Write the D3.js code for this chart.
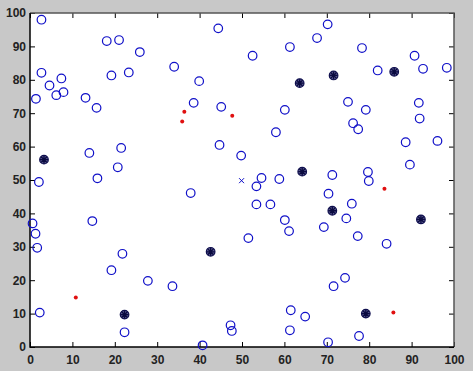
<!DOCTYPE html>
<html>
<head>
<meta charset="utf-8">
<script src="https://cdn.jsdelivr.net/npm/d3@7"></script>
<style>
  body { margin: 0; background: #c8c8c8; }
  svg { display: block; }
</style>
</head>
<body>
<div id="chart"></div>
<script>
// data points
var circles = [
  [2.7,98.0],[2.7,82.1],[1.4,74.3],[4.6,78.3],[6.2,75.4],[7.4,80.4],[7.9,76.3],
  [13.1,74.6],[15.7,71.6],[18.1,91.6],[21.0,91.9],[19.2,81.3],[23.3,82.2],[25.9,88.3],
  [34.0,83.9],[39.9,79.6],[38.6,73.1],[44.4,95.4],[45.1,71.9],[44.7,60.5],[14.0,58.1],
  [21.5,59.6],[20.7,53.8],[15.9,50.5],[2.1,49.4],[49.8,57.3],[52.5,87.2],[61.3,89.8],
  [67.7,92.5],[70.2,96.6],[78.3,89.5],[90.7,87.2],[92.7,83.3],[98.3,83.6],[82.0,82.8],
  [75.0,73.4],[79.2,71.0],[91.7,73.1],[91.9,68.4],[60.1,71.0],[58.0,64.3],[76.2,67.0],
  [77.4,65.2],[88.6,61.3],[96.1,61.7],[89.6,54.6],[54.6,50.6],[58.8,50.3],[71.3,51.5],
  [79.7,52.4],[79.9,49.7],[53.4,48.1],[70.4,45.9],[75.9,42.9],[53.4,42.7],[56.7,42.7],
  [74.6,38.5],[60.1,38.0],[61.1,34.7],[69.3,35.9],[77.3,33.2],[84.1,30.9],[51.5,32.6],
  [74.3,20.7],[71.6,18.2],[61.5,11.0],[64.9,9.1],[61.3,5.0],[77.6,3.3],[70.3,1.4],
  [47.3,6.5],[47.6,4.8],[37.9,46.1],[0.6,37.0],[1.3,33.9],[1.7,29.7],[14.7,37.7],
  [21.8,27.9],[19.2,23.0],[27.8,19.8],[33.6,18.2],[2.3,10.3],[22.3,4.4],[40.7,0.5]
];
var centers = [
  [3.3,56.1],[63.6,79.0],[71.6,81.3],[85.9,82.4],[64.2,52.5],
  [71.3,40.8],[92.2,38.2],[79.2,10.0],[42.6,28.5],[22.3,9.7]
];
var redDots = [[36.4,70.4],[35.9,67.5],[47.7,69.2],[10.8,14.8],[83.6,47.4],[85.7,10.3]];
var crossPts = [[49.9,49.8]];
var ticks = [0,10,20,30,40,50,60,70,80,90,100];

var W = 473, H = 371;
var margin = {top: 13, right: 19, bottom: 24, left: 30};
var width = W - margin.left - margin.right,
    height = H - margin.top - margin.bottom;

var svg = d3.select("#chart").append("svg")
    .attr("width", W).attr("height", H)
  .append("g")
    .attr("transform", "translate(" + margin.left + "," + margin.top + ")");

var x = d3.scaleLinear().domain([0, 100]).range([0, width]);
var y = d3.scaleLinear().domain([0, 100]).range([height, 0]);

svg.append("rect").attr("width", width).attr("height", height).attr("fill", "#fff");

// axes with inward ticks on all sides
function styleAxis(g) {
  g.select(".domain").remove();
  g.selectAll("text").attr("fill", "#222")
    .style("font-family", "Liberation Sans, Arial, sans-serif")
    .style("font-size", "12px").style("font-weight", "bold");
  g.selectAll("line").attr("stroke", "#000");
}
svg.append("g").attr("transform", "translate(0," + height + ")")
  .call(d3.axisBottom(x).tickValues(ticks).tickSize(-5).tickPadding(8))
  .call(styleAxis);
svg.append("g")
  .call(d3.axisLeft(y).tickValues(ticks).tickSize(-5).tickPadding(4))
  .call(styleAxis);
svg.append("g")
  .call(d3.axisTop(x).tickValues(ticks).tickSize(-5).tickFormat(""))
  .call(styleAxis);
svg.append("g").attr("transform", "translate(" + width + ",0)")
  .call(d3.axisRight(y).tickValues(ticks).tickSize(-5).tickFormat(""))
  .call(styleAxis);

// box
svg.append("path").attr("fill", "none").attr("stroke", "#555").attr("stroke-width", 1.5)
  .attr("d", "M0,0H" + width + "V" + height);
svg.append("path").attr("fill", "none").attr("stroke", "#000").attr("stroke-width", 1.5)
  .attr("d", "M0,0V" + height + "H" + width);

// blue circles
svg.selectAll(".pt").data(circles).enter().append("circle")
  .attr("cx", function(d) { return x(d[0]); })
  .attr("cy", function(d) { return y(d[1]); })
  .attr("r", 4.3)
  .attr("fill", "none").attr("stroke", "#1010c8").attr("stroke-width", 1.2);

// centers: circle with asterisk
var c = svg.selectAll(".ctr").data(centers).enter().append("g")
  .attr("transform", function(d) { return "translate(" + x(d[0]) + "," + y(d[1]) + ")"; });
c.append("circle").attr("r", 4.3).attr("fill", "#5a5a90")
  .attr("stroke", "#101050").attr("stroke-width", 1.2);
c.append("path").attr("stroke", "#0a0a40").attr("stroke-width", 1.3)
  .attr("d", "M-4,0H4M0,-4V4M-2.9,-2.9L2.9,2.9M-2.9,2.9L2.9,-2.9");

// red dots
svg.selectAll(".red").data(redDots).enter().append("circle")
  .attr("cx", function(d) { return x(d[0]); })
  .attr("cy", function(d) { return y(d[1]); })
  .attr("r", 2).attr("fill", "#e01010");

// blue x
svg.selectAll(".cross").data(crossPts).enter().append("path")
  .attr("transform", function(d) { return "translate(" + x(d[0]) + "," + y(d[1]) + ")"; })
  .attr("stroke", "#1010c8").attr("stroke-width", 1)
  .attr("d", "M-2.5,-2.5L2.5,2.5M-2.5,2.5L2.5,-2.5");
</script>
</body>
</html>
